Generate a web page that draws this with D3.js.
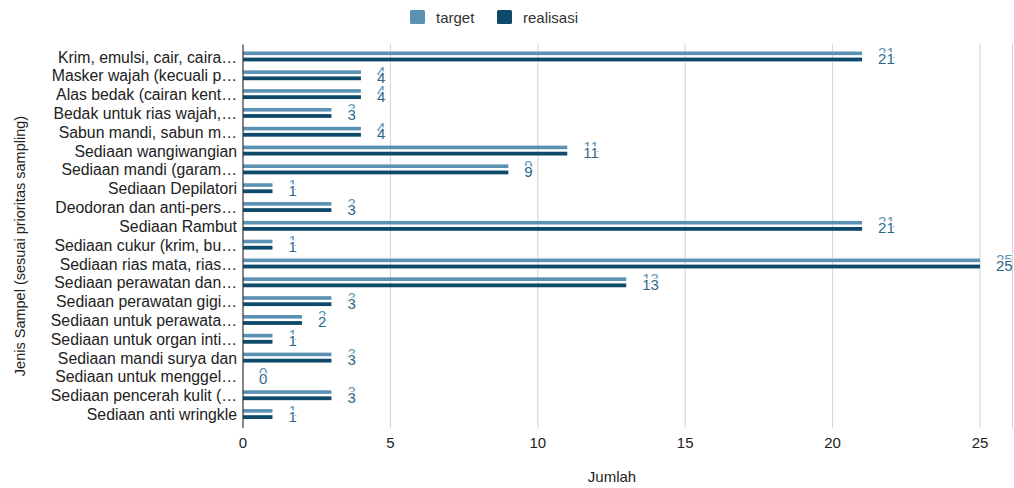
<!DOCTYPE html>
<html>
<head>
<meta charset="utf-8">
<script src="https://cdn.jsdelivr.net/npm/d3@7"></script>
<style>
  body { margin: 0; background: #fff; }
  svg { font-family: "Liberation Sans", Arial, sans-serif; }
</style>
</head>
<body>
<svg id="chart" width="1014" height="488"></svg>
<script>
// chart data
const categories = [
  "Krim, emulsi, cair, caira…",
  "Masker wajah (kecuali p…",
  "Alas bedak (cairan kent…",
  "Bedak untuk rias wajah,…",
  "Sabun mandi, sabun m…",
  "Sediaan wangiwangian",
  "Sediaan mandi (garam…",
  "Sediaan Depilatori",
  "Deodoran dan anti-pers…",
  "Sediaan Rambut",
  "Sediaan cukur (krim, bu…",
  "Sediaan rias mata, rias…",
  "Sediaan perawatan dan…",
  "Sediaan perawatan gigi…",
  "Sediaan untuk perawata…",
  "Sediaan untuk organ inti…",
  "Sediaan mandi surya dan",
  "Sediaan untuk menggel…",
  "Sediaan pencerah kulit (…",
  "Sediaan anti wringkle"
];
const target = [21, 4, 4, 3, 4, 11, 9, 1, 3, 21, 1, 25, 13, 3, 2, 1, 3, 0, 3, 1];
const realisasi = [21, 4, 4, 3, 4, 11, 9, 1, 3, 21, 1, 25, 13, 3, 2, 1, 3, 0, 3, 1];
const xTicks = [0, 5, 10, 15, 20, 25];

const colTarget = "#5b92b4";
const colReal = "#0e4a6c";

const svg = d3.select("#chart");
const margin = { top: 47.6, right: 34, bottom: 64, left: 243 };
const height = 488 - margin.top - margin.bottom;

const x = d3.scaleLinear().domain([0, 25]).range([0, 980 - 243]);
const y = d3.scaleBand().domain(categories).range([0, height]);

const g = svg.append("g").attr("transform", `translate(${margin.left},${margin.top})`);

// vertical gridlines
g.selectAll(".grid")
  .data(xTicks.slice(1))
  .enter()
  .append("line")
  .attr("x1", (d) => x(d))
  .attr("x2", (d) => x(d))
  .attr("y1", -4)
  .attr("y2", height + 4)
  .attr("stroke", "#d4d4d4")
  .attr("stroke-width", 1);

// right border line
svg.append("line")
  .attr("x1", 1012.5).attr("x2", 1012.5)
  .attr("y1", 44).attr("y2", 428)
  .attr("stroke", "#d4d4d4");

// bars
const rows = categories.map((c, i) => ({ c, t: target[i], r: realisasi[i] }));

g.selectAll(".bar-t")
  .data(rows)
  .enter()
  .append("rect")
  .attr("x", 0)
  .attr("y", (d) => y(d.c) + y.bandwidth() / 2 - 5.5)
  .attr("width", (d) => x(d.t))
  .attr("height", 3.6)
  .attr("fill", colTarget);

g.selectAll(".bar-r")
  .data(rows)
  .enter()
  .append("rect")
  .attr("x", 0)
  .attr("y", (d) => y(d.c) + y.bandwidth() / 2 + 0.6)
  .attr("width", (d) => x(d.r))
  .attr("height", 3.8)
  .attr("fill", colReal);

// value labels: target (mostly hidden) then realisasi on top
g.selectAll(".lbl-t")
  .data(rows)
  .enter()
  .append("text")
  .attr("x", (d) => x(d.t) + 16)
  .attr("y", (d) => y(d.c) + y.bandwidth() / 2 + 1)
  .style("font-size", "15px")
  .attr("fill", "#5f93b3")
  .text((d) => d.t);

g.selectAll(".lbl-r")
  .data(rows)
  .enter()
  .append("text")
  .attr("x", (d) => x(d.r) + 16)
  .attr("y", (d) => y(d.c) + y.bandwidth() / 2 + 7)
  .style("font-size", "15px")
  .attr("fill", "#2c6689")
  .attr("stroke", "#fff")
  .attr("stroke-width", 3)
  .attr("paint-order", "stroke")
  .text((d) => d.r);

// zero axis line
g.append("line")
  .attr("x1", 0).attr("x2", 0)
  .attr("y1", -3).attr("y2", height + 4)
  .attr("stroke", "#333")
  .attr("stroke-width", 1.2);

// category labels
g.selectAll(".cat")
  .data(categories)
  .enter()
  .append("text")
  .attr("x", -6)
  .attr("y", (d) => y(d) + y.bandwidth() / 2 + 5.5)
  .attr("text-anchor", "end")
  .style("font-size", "15.8px")
  .attr("fill", "#222")
  .text((d) => d);

// x tick labels
g.selectAll(".xtick")
  .data(xTicks)
  .enter()
  .append("text")
  .attr("x", (d) => x(d))
  .attr("y", height + 24)
  .attr("text-anchor", "middle")
  .style("font-size", "15px")
  .attr("fill", "#222")
  .text((d) => d);

// axis titles
svg.append("text")
  .attr("x", 612)
  .attr("y", 482)
  .attr("text-anchor", "middle")
  .style("font-size", "15px")
  .attr("fill", "#222")
  .text("Jumlah");

svg.append("text")
  .attr("transform", "rotate(-90)")
  .attr("x", -246)
  .attr("y", 25)
  .attr("text-anchor", "middle")
  .style("font-size", "14.5px")
  .attr("fill", "#222")
  .text("Jenis Sampel (sesuai prioritas sampling)");

// legend
const legend = [
  { name: "target", color: colTarget, x: 410 },
  { name: "realisasi", color: colReal, x: 497 }
];
const lg = svg.selectAll(".legend")
  .data(legend)
  .enter()
  .append("g")
  .attr("transform", (d) => `translate(${d.x},10)`);

lg.append("rect")
  .attr("width", 15)
  .attr("height", 14)
  .attr("rx", 1.5)
  .attr("fill", (d) => d.color);

lg.append("text")
  .attr("x", 26)
  .attr("y", 13)
  .style("font-size", "15px")
  .attr("fill", "#333")
  .text((d) => d.name);
</script>
</body>
</html>
